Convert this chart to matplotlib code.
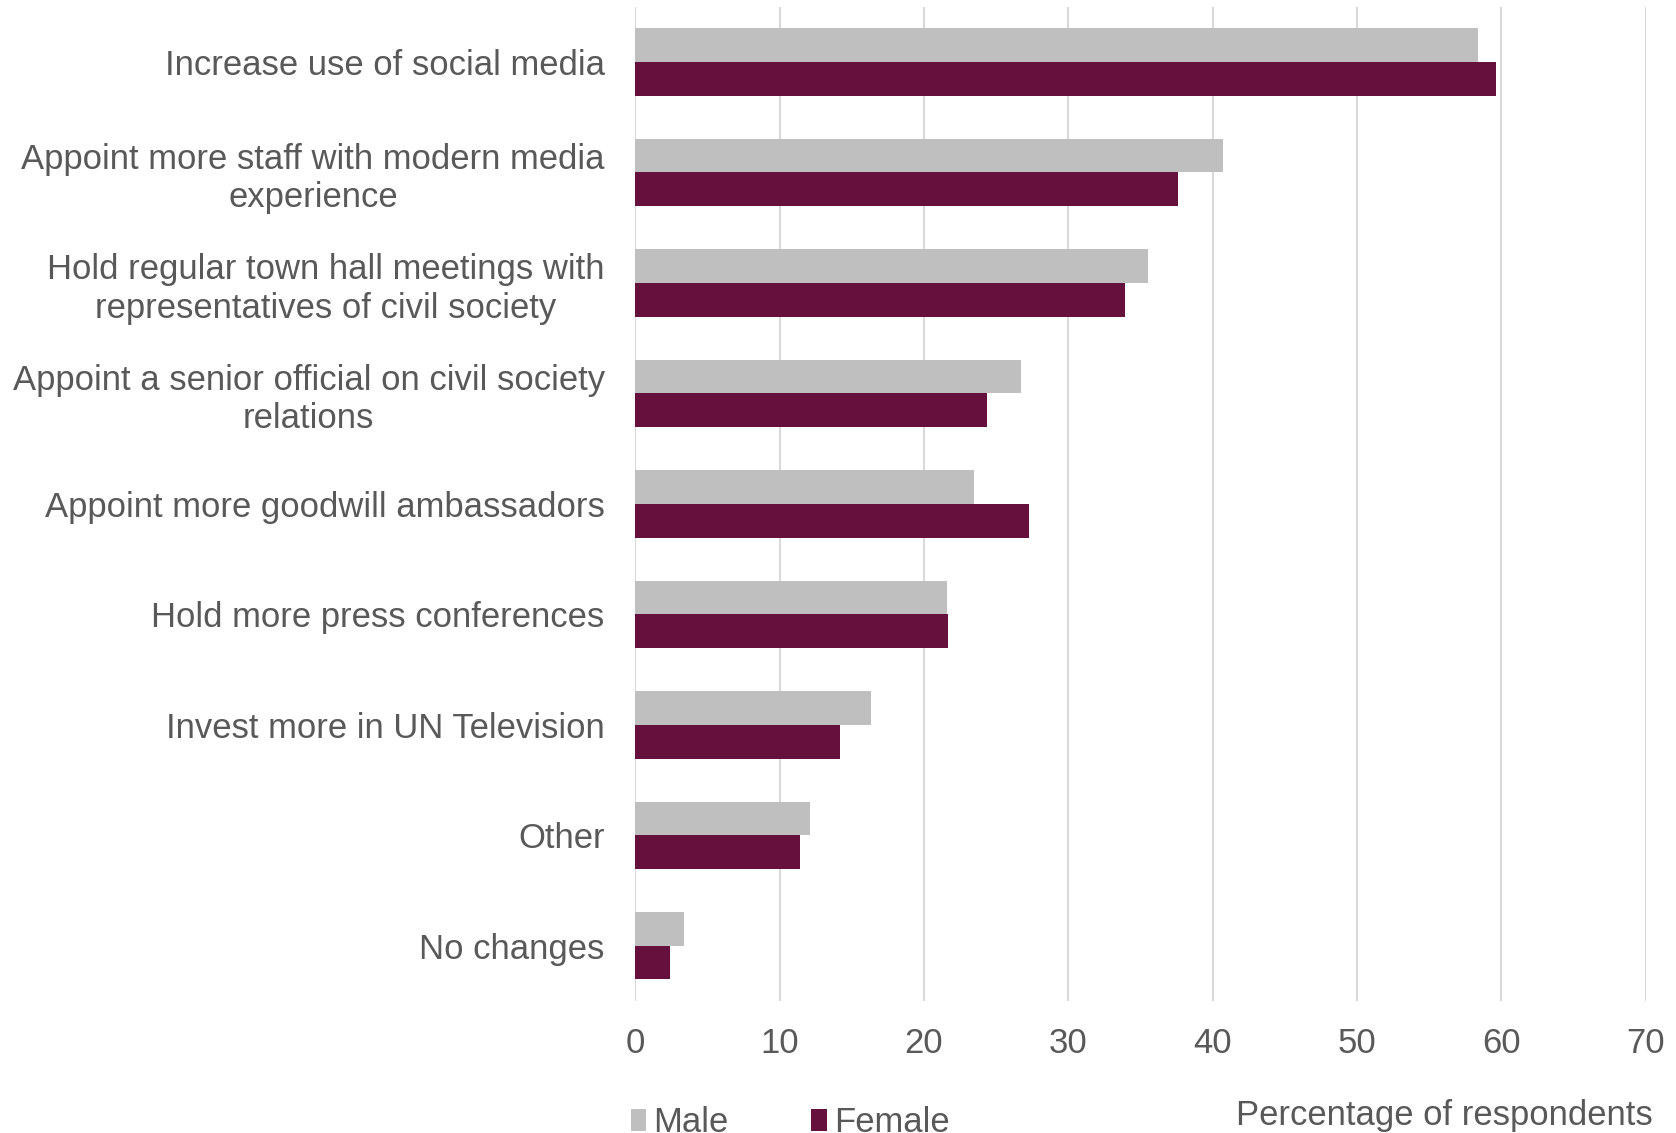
import matplotlib
matplotlib.use("Agg")
import matplotlib.pyplot as plt
import numpy as np

categories = [
    "Increase use of social media",
    "Appoint more staff with modern media\nexperience",
    "Hold regular town hall meetings with\nrepresentatives of civil society",
    "Appoint a senior official on civil society\nrelations",
    "Appoint more goodwill ambassadors",
    "Hold more press conferences",
    "Invest more in UN Television",
    "Other",
    "No changes",
]
male = [58.4, 40.7, 35.5, 26.7, 23.5, 21.6, 16.3, 12.1, 3.4]
female = [59.6, 37.6, 33.9, 24.4, 27.3, 21.7, 14.2, 11.4, 2.4]
xticks = [0, 10, 20, 30, 40, 50, 60, 70]

plt.rcParams['font.family'] = ['Liberation Sans', 'DejaVu Sans']
TXT = '#595959'
MALE_C = '#bfbfbf'
FEMALE_C = '#65103d'
FS = 24.9

fig = plt.figure(figsize=(16.76, 11.33), dpi=100)
ax = fig.add_axes([0.379, 0.1165, 0.603, 0.8776])

y = np.arange(len(categories))
h = 0.305
ax.barh(y - h / 2, male, height=h, color=MALE_C, label='Male', zorder=3)
ax.barh(y + h / 2, female, height=h, color=FEMALE_C, label='Female', zorder=3)

ax.set_ylim(len(categories) - 0.5, -0.5)
ax.set_xlim(0, 70)
ax.set_xticks(xticks)
ax.set_xticklabels([str(t) for t in xticks], fontsize=FS, color=TXT)
ax.set_yticks(y)
ax.set_yticklabels(categories, fontsize=FS, color=TXT, multialignment='center')
ax.tick_params(axis='both', length=0)
ax.tick_params(axis='x', pad=19)
ax.tick_params(axis='y', pad=22)
ax.grid(axis='x', color='#d9d9d9', linewidth=1.5, zorder=0)
for s in ax.spines.values():
    s.set_visible(False)

fig.legend(loc='center left', bbox_to_anchor=(0.366, 1 - 1123 / 1133), ncol=2, frameon=False,
           fontsize=FS, handlelength=0.45, handleheight=0.6, handletextpad=0.2,
           columnspacing=2.4, borderpad=0, labelcolor=TXT)
fig.text(1653 / 1676, 1 - 1116 / 1133, 'Percentage of respondents', ha='right', va='center',
         fontsize=FS, color=TXT)

fig.savefig('out.png', dpi=100)
